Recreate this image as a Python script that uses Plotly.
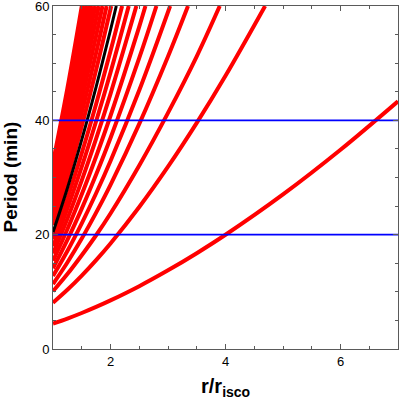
import plotly.graph_objects as go

# Orbital period (min) vs r/r_isco, one curve per black-hole spin
spins = [0.0, 0.05, 0.10, 0.15, 0.20, 0.25, 0.30, 0.35, 0.40, 0.45, 0.50,
         0.55, 0.60, 0.65, 0.70, 0.75, 0.80, 0.85, 0.90, 0.95, 1.00]
highlight_spin = 0.50

x_grid = [1, 1.25, 1.5, 1.75, 2, 2.5, 3, 3.5, 4, 5, 6, 7]

p_000 = [32.63, 45.60]
p_005 = [31.41, 43.85, 57.61]
p_010 = [30.19, 42.10, 55.27]
p_015 = [28.97, 40.36, 52.95]
p_020 = [27.76, 38.61, 50.62]
p_025 = [26.54, 36.87, 48.30]
p_030 = [25.33, 35.13, 45.97, 57.76]
p_035 = [24.11, 33.39, 43.64, 54.80]
p_040 = [22.89, 31.64, 41.31, 51.82]
p_045 = [21.67, 29.89, 38.98, 48.86]
p_050 = [20.44, 28.13, 36.63, 45.87, 55.80]
p_055 = [19.21, 26.36, 34.27, 42.87, 52.11]
p_060 = [17.97, 24.58, 31.89, 39.84, 48.38]
p_065 = [16.72, 22.79, 29.50, 36.80, 44.64]
p_070 = [15.43, 20.95, 27.05, 33.68, 40.80, 56.40]
p_075 = [14.12, 19.08, 24.55, 30.51, 36.90, 50.91]
p_080 = [12.78, 17.15, 21.99, 27.24, 32.89, 45.26]
p_085 = [11.37, 15.14, 19.31, 23.85, 28.71, 39.38, 51.17]
p_090 = [10.10, 13.10, 16.40, 19.90, 23.70, 32.10, 41.30, 51.20]
p_095 = [8.10, 10.35, 12.84, 15.55, 18.46, 24.84, 31.89, 39.55, 47.79]
p_100 = [4.44, 5.32, 6.30, 7.36, 8.50, 10.99, 13.76, 16.76, 19.98, 27.04, 34.85, 43.33]

periods = [p_000, p_005, p_010, p_015, p_020, p_025, p_030, p_035, p_040, p_045, p_050,
           p_055, p_060, p_065, p_070, p_075, p_080, p_085, p_090, p_095, p_100]

# r/r_isco where each curve leaves the top of the frame (P = 60 min)
x_exit = [1.501, 1.541, 1.585, 1.631, 1.682, 1.736, 1.796, 1.861, 1.933, 2.012, 2.101,
          2.202, 2.317, 2.450, 2.608, 2.799, 3.037, 3.348, 3.900, 4.689, None]
p_top = 60

ref_periods = [20, 40]

x_range = [1, 7]
y_range = [0, 60]

FONT = "Liberation Sans, Arial, Helvetica"

fig = go.Figure()

black_trace = None
for a, p, xe in zip(spins, periods, x_exit):
    xs = x_grid[:len(p)]
    ys = list(p)
    if xe is not None:
        xs = xs + [xe]
        ys = ys + [p_top]
    is_hl = (a == highlight_spin)
    tr = go.Scatter(x=xs, y=ys, mode="lines", name=f"a={a:.2f}",
                    line=dict(shape="spline", width=3 if is_hl else 4,
                              color="black" if is_hl else "#ff0000"),
                    showlegend=False)
    if is_hl:
        black_trace = tr
    else:
        fig.add_trace(tr)
fig.add_trace(black_trace)

for rp in ref_periods:
    fig.add_trace(go.Scatter(x=x_range, y=[rp, rp], mode="lines",
                             line=dict(color="#0000ff", width=1.6), showlegend=False))

axis_common = dict(showline=True, linecolor="#5a5a5a", linewidth=1, mirror="ticks",
                   ticks="inside", tickcolor="#5a5a5a", showgrid=False, zeroline=False,
                   automargin=False, ticklabeloverflow="allow",
                   tickfont=dict(family=FONT, size=13, color="black"))

fig.update_xaxes(range=x_range, tickvals=[2, 4, 6], ticklen=5,
                 minor=dict(dtick=0.5, tick0=0, ticks="inside", ticklen=3, tickcolor="#5a5a5a"),
                 **axis_common)
fig.update_yaxes(range=y_range, tickvals=[0, 20, 40, 60], ticklen=5,
                 minor=dict(dtick=5, tick0=0, ticks="inside", ticklen=3, tickcolor="#5a5a5a"),
                 **axis_common)

fig.add_annotation(text="<b>r/r<sub>isco</sub></b>", xref="paper", yref="paper",
                   x=0.5, y=0, xanchor="center", yanchor="middle", yshift=-38,
                   showarrow=False, font=dict(family=FONT, size=20, color="black"))
fig.add_annotation(text="<b>Period (min)</b>", xref="paper", yref="paper",
                   x=0, y=0.5, xanchor="center", yanchor="middle", xshift=-43,
                   textangle=-90, showarrow=False,
                   font=dict(family=FONT, size=19, color="black"))

fig.update_layout(width=399, height=401, margin=dict(l=53, r=1, t=6, b=52),
                  plot_bgcolor="white", paper_bgcolor="white")

fig.write_html("out.html", config={"displayModeBar": False},
               post_script="document.body.style.margin='0';document.body.style.overflow='hidden';")
